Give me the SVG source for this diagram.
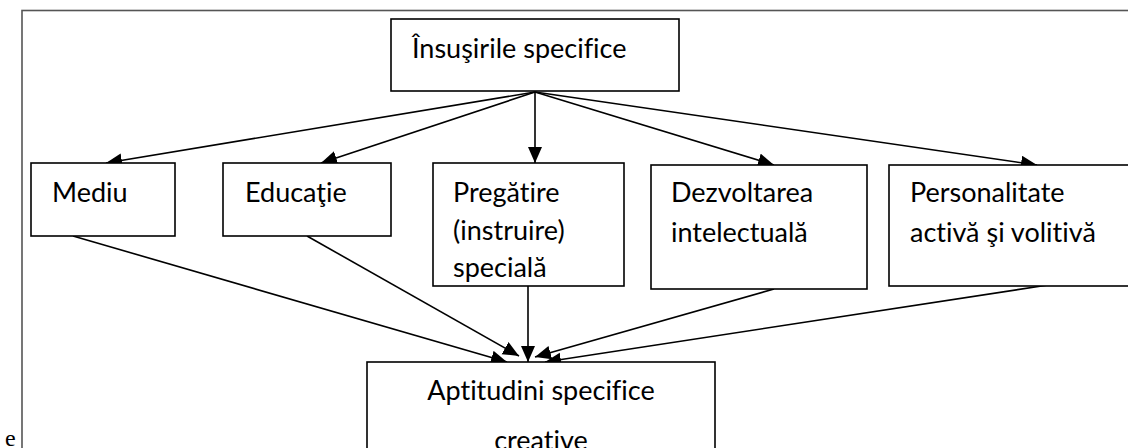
<svg xmlns="http://www.w3.org/2000/svg" width="1128" height="448" viewBox="0 0 1128 448">
<style>
.box{fill:#fff;stroke:#000;stroke-width:1.6}
.t{font-family:Lato,"Open Sans","Liberation Sans",sans-serif;font-size:27px;fill:#000;font-variant-ligatures:none}
.c{stroke:#000;stroke-width:1.6;fill:none;marker-end:url(#ah)}
.e{font-family:"Liberation Serif",serif;font-size:24px;fill:#000}
</style>
<defs>
<marker id="ah" markerUnits="userSpaceOnUse" markerWidth="18" markerHeight="16" refX="16" refY="7" orient="auto">
<path d="M0,0 L16,7 L0,14 Z" fill="#000"/>
</marker>
<clipPath id="cp3"><rect x="433" y="164" width="190" height="121"/></clipPath>
</defs>
<rect x="22" y="10.5" width="1130" height="460" fill="none" stroke="#555" stroke-width="1.6"/>
<text class="e" x="5" y="446">e</text>
<g id="connectors">
<line class="c" x1="535" y1="92" x2="106" y2="163"/>
<line class="c" x1="535" y1="92" x2="321" y2="163"/>
<line class="c" x1="535" y1="92" x2="535" y2="163"/>
<line class="c" x1="535" y1="92" x2="774" y2="165"/>
<line class="c" x1="535" y1="92" x2="1037" y2="165"/>
<line class="c" x1="73" y1="236" x2="507" y2="362"/>
<line class="c" x1="307" y1="236" x2="519" y2="356"/>
<line class="c" x1="528" y1="286" x2="528" y2="362"/>
<line class="c" x1="774" y1="289" x2="535" y2="357"/>
<line class="c" x1="1048" y1="285" x2="545" y2="362"/>
</g>
<g id="n-top">
<rect class="box" x="391" y="19" width="288" height="72"/>
<text class="t" x="412" y="58">Însuşirile specifice</text>
</g>
<g id="n-mediu">
<rect class="box" x="31" y="163" width="144" height="73"/>
<text class="t" x="52" y="202">Mediu</text>
</g>
<g id="n-educatie">
<rect class="box" x="223" y="163" width="168" height="73"/>
<text class="t" x="245" y="202">Educaţie</text>
</g>
<g id="n-pregatire">
<rect class="box" x="433" y="163" width="191" height="123"/>
<g clip-path="url(#cp3)">
<text class="t" x="453" y="202">Pregătire</text>
<text class="t" x="453" y="240">(instruire)</text>
<text class="t" x="453" y="277">specială</text>
</g>
</g>
<g id="n-dezvoltarea">
<rect class="box" x="651" y="165" width="216" height="124"/>
<text class="t" x="671" y="202">Dezvoltarea</text>
<text class="t" x="671" y="242">intelectuală</text>
</g>
<g id="n-personalitate">
<rect class="box" x="889" y="165" width="260" height="121"/>
<text class="t" x="910" y="202">Personalitate</text>
<text class="t" x="910" y="242">activă şi volitivă</text>
</g>
<g id="n-aptitudini">
<rect class="box" x="367" y="362" width="348" height="110"/>
<text class="t" x="541" y="400" text-anchor="middle">Aptitudini specifice</text>
<text class="t" x="541" y="450" text-anchor="middle">creative</text>
</g>
</svg>
